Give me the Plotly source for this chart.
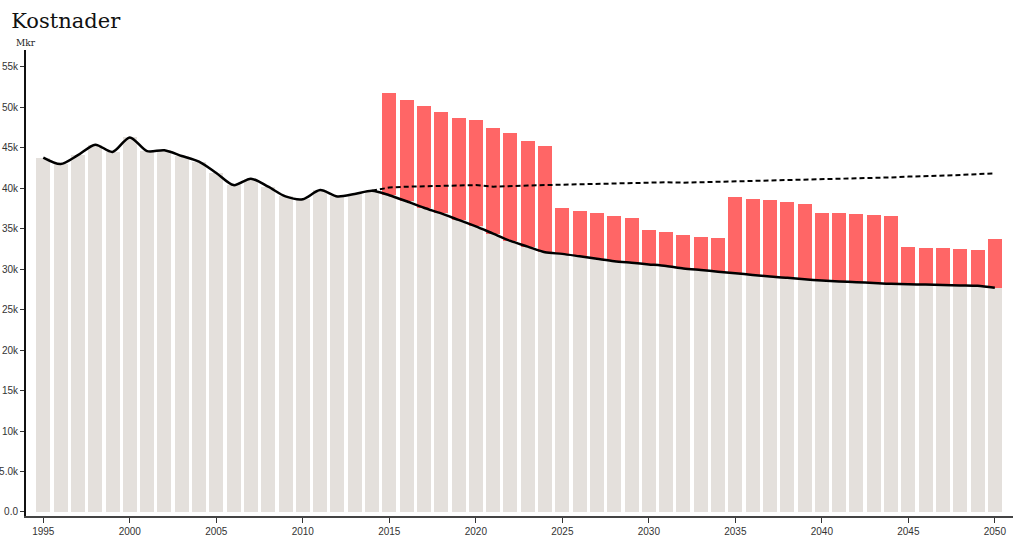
import plotly.graph_objects as go

# years
years = list(range(1995, 2051))

# base cost (gray bars + solid line), Mkr
base = [
    43.8, 43.0, 44.1, 45.4, 44.5, 46.3, 44.6, 44.7, 44.0, 43.3,
    41.9, 40.4, 41.2, 40.2, 39.0, 38.65, 39.8, 39.0, 39.3, 39.7,
    39.15, 38.4, 37.6, 36.9, 36.1, 35.3, 34.4, 33.5, 32.8, 32.1,
    31.9, 31.6, 31.3, 31.0, 30.8, 30.6, 30.4, 30.1, 29.9, 29.7,
    29.5, 29.3, 29.1, 28.95, 28.75, 28.6, 28.5, 28.4, 28.3, 28.2,
    28.15, 28.1, 28.05, 28.0, 27.95, 27.7,
]

# total cost incl. additions (red bars), 2015-2050
red_years = list(range(2015, 2051))
total = [
    51.75, 50.9, 50.2, 49.4, 48.7, 48.45, 47.5, 46.8, 45.9, 45.2,
    37.6, 37.25, 36.95, 36.6, 36.3, 34.8, 34.6, 34.2, 34.0, 33.9,
    38.9, 38.65, 38.5, 38.3, 38.1, 36.95, 36.9, 36.8, 36.7, 36.55,
    32.7, 32.6, 32.6, 32.5, 32.4, 33.8,
]

# dashed reference line, 2014-2050
dash_years = list(range(2014, 2051))
reference = [
    39.7, 40.1, 40.2, 40.25, 40.3, 40.35, 40.4, 40.2, 40.3, 40.35,
    40.4, 40.45, 40.5, 40.55, 40.6, 40.65, 40.7, 40.75, 40.7, 40.75,
    40.8, 40.85, 40.9, 40.95, 41.0, 41.05, 41.1, 41.2, 41.25, 41.3,
    41.35, 41.45, 41.5, 41.6, 41.65, 41.75, 41.85,
]

y_ticks = [0, 5000, 10000, 15000, 20000, 25000, 30000, 35000, 40000, 45000, 50000, 55000]
y_labels = ["0.0", "5.0k", "10k", "15k", "20k", "25k", "30k", "35k", "40k", "45k", "50k", "55k"]
x_ticks = list(range(1995, 2051, 5))

SERIF = "DejaVu Serif"
SANS = "Liberation Sans"

# red part sits on top of the base bar
offset = len(years) - len(red_years)
extra = [(t - base[offset + i]) * 1000 for i, t in enumerate(total)]

fig = go.Figure()

fig.add_trace(go.Bar(
    x=years, y=[v * 1000 for v in base],
    marker=dict(color="#e4e0dc", line=dict(width=0)),
    name="Bas",
))
fig.add_trace(go.Bar(
    x=red_years, y=extra,
    marker=dict(color="#ff6666", line=dict(width=0)),
    name="Tillkommande",
))
fig.add_trace(go.Scatter(
    x=years, y=[v * 1000 for v in base],
    mode="lines",
    line=dict(color="#000000", width=2.5, shape="spline", smoothing=0.8),
    name="Bas linje",
))
fig.add_trace(go.Scatter(
    x=dash_years, y=[v * 1000 for v in reference],
    mode="lines",
    line=dict(color="#000000", width=2, dash="5px,3px"),
    name="Referens",
))

fig.update_layout(
    width=1023, height=545,
    paper_bgcolor="white", plot_bgcolor="white",
    barmode="stack", bargap=0.19,
    showlegend=False,
    font=dict(family=SANS, size=10, color="#333333"),
    margin=dict(l=26, r=10, t=50, b=29),
    title=dict(
        text="Kostnader", xref="container", x=0.011, xanchor="left",
        yref="container", y=0.962, yanchor="middle",
        font=dict(family=SERIF, size=21, color="#111111"),
    ),
    annotations=[dict(
        text="Mkr", xref="paper", yref="paper", x=0, y=1.0,
        xanchor="center", yanchor="bottom", showarrow=False,
        font=dict(family=SERIF, size=9, color="#222222"),
    )],
)

fig.update_xaxes(
    range=[1994.0, 2051.05], automargin=False,
    tickvals=x_ticks, ticks="outside", ticklen=5, tickcolor="#333333",
    showline=True, linecolor="#444444", linewidth=1.5,
    showgrid=False, zeroline=False,
)
fig.update_yaxes(
    range=[-500, 57100], automargin=False,
    tickvals=y_ticks, ticktext=y_labels,
    ticks="outside", ticklen=4, tickcolor="#333333",
    showline=True, linecolor="#111111", linewidth=2,
    showgrid=False, zeroline=False,
)

# drop the browser's default 8px body margin so the figure fills the window
fig.write_html(
    "out.html",
    config={"displayModeBar": False},
    post_script="document.body.style.margin = '0';",
)
